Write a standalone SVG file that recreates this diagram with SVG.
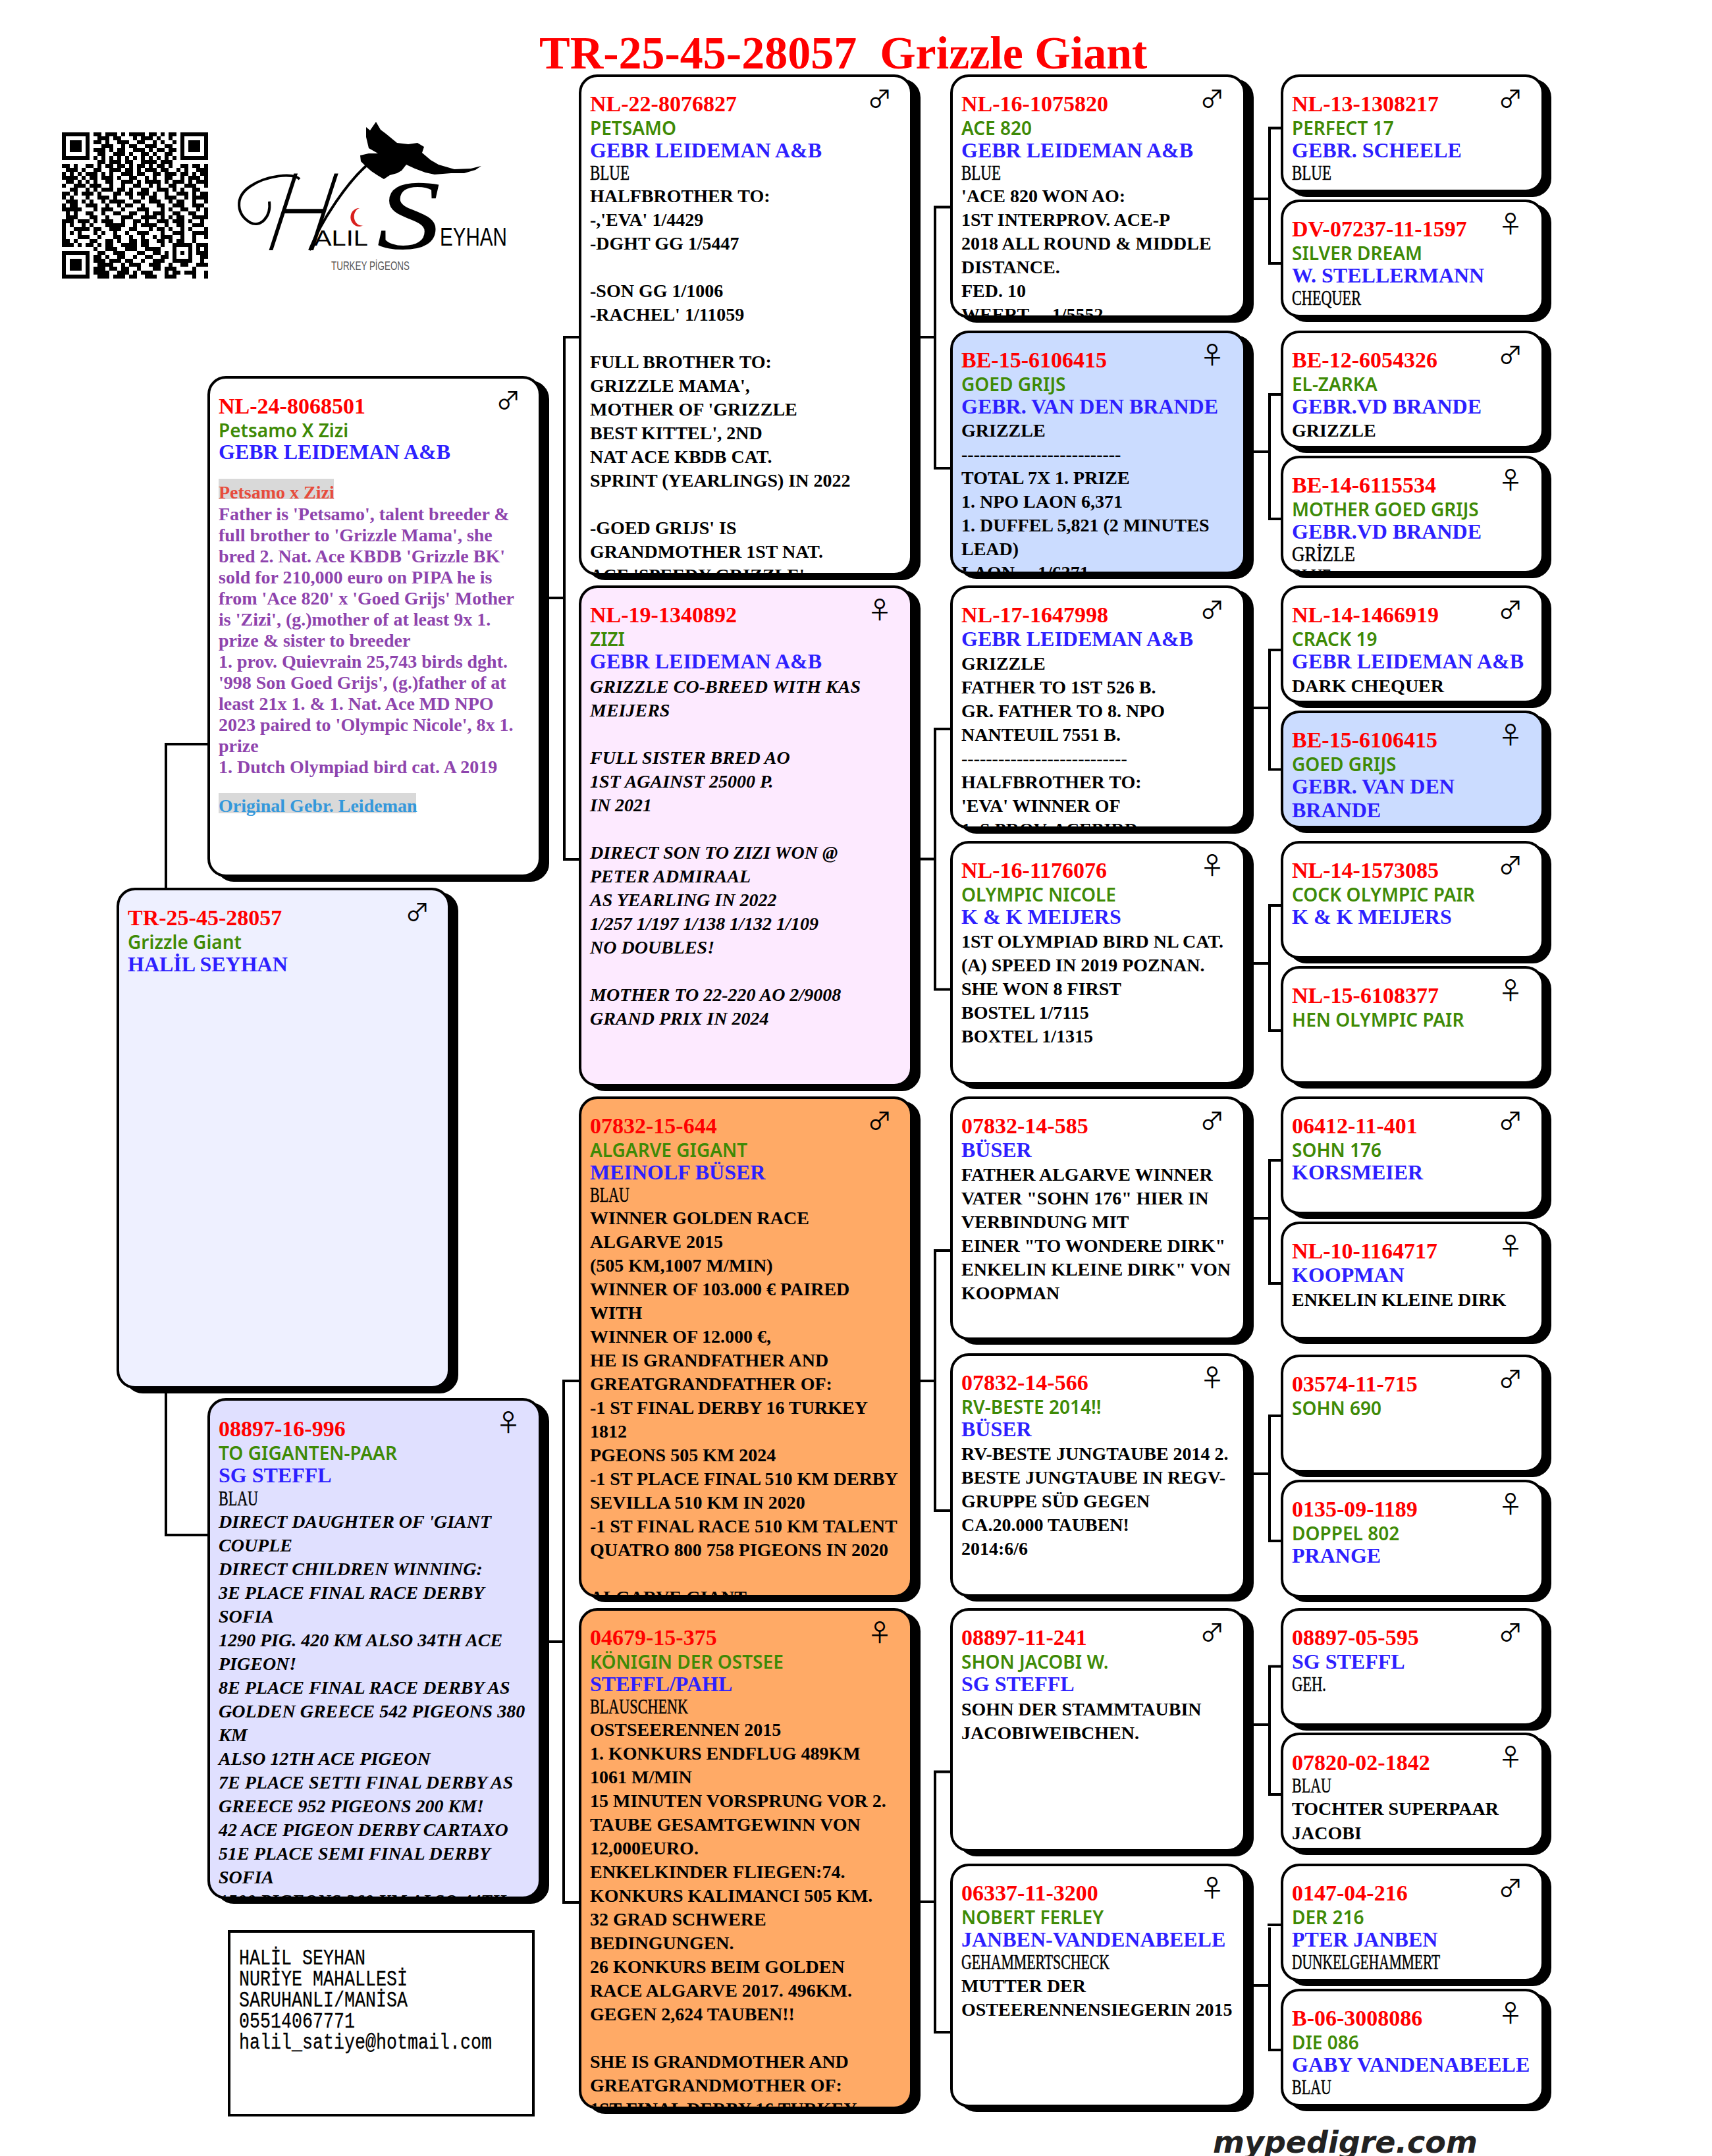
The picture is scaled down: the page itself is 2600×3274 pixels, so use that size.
<svg xmlns="http://www.w3.org/2000/svg" width="2600" height="3274" viewBox="0 0 2600 3274">
<style>
text{font-family:"Liberation Serif","Times New Roman",serif;font-weight:700;white-space:pre}
.i{font-size:34px;fill:#f00}
.g{font-family:"Noto Sans","Open Sans",sans-serif;font-size:28px;font-weight:600;fill:#3e8a06}
.u{font-size:32px;fill:#2e1fff}
.t{font-size:28px;fill:#000}
.e{font-size:28px;fill:#000;font-style:italic}
.m{font-size:31px;font-weight:400;fill:#000;stroke:#000;stroke-width:.5px}
.sx{font-family:"Noto Sans CJK SC","DejaVu Sans",sans-serif;font-size:37px;font-weight:400;fill:#000;text-anchor:middle}
.p{font-size:28px;fill:#8e44ad}
.sh{fill:#000;stroke:#000;stroke-width:4}
.bx{stroke:#000;stroke-width:4}
.w{fill:#fff}.lb{fill:#cbdcff}.pk{fill:#fdeaff}.or{fill:#ffaa66}.r0{fill:#eef0ff}.r1{fill:#e0e0ff}
.con{fill:none;stroke:#000;stroke-width:4}
.adr{font-family:"Liberation Mono",monospace;font-size:33px;font-weight:400;fill:#000;stroke:#000;stroke-width:.3px}
</style>
<defs>
<rect id="r5" x="2" y="2" width="396" height="175" rx="26"/>
<rect id="r4" x="2" y="2" width="445" height="366" rx="26"/>
<rect id="r3" x="2" y="2" width="503" height="757" rx="26"/>
<clipPath id="c5"><rect x="4" y="4" width="392" height="171" rx="24"/></clipPath>
<clipPath id="c4"><rect x="4" y="4" width="441" height="362" rx="24"/></clipPath>
<clipPath id="c3"><rect x="4" y="4" width="499" height="753" rx="24"/></clipPath>
</defs>
<rect width="2600" height="3274" fill="#fff"/>
<text id="title" x="819" y="104" style="font-size:70px;fill:#f00">TR-25-45-28057  Grizzle Giant</text>

<g id="qr"><path transform="translate(94,204) scale(6)" fill="none" stroke="#000" stroke-width="1" d="M0 0h7M8 0h2M11 0h3M15 0h1M17 0h4M22 0h2M25 0h1M27 0h2M30 0h7M0 1h1M6 1h1M9 1h3M13 1h2M18 1h1M20 1h3M24 1h1M27 1h1M30 1h1M36 1h1M0 2h1M2 2h3M6 2h1M8 2h2M11 2h1M14 2h3M19 2h2M23 2h1M25 2h1M28 2h1M30 2h1M32 2h3M36 2h1M0 3h1M2 3h3M6 3h1M10 3h3M15 3h1M17 3h2M21 3h3M26 3h2M30 3h1M32 3h3M36 3h1M0 4h1M2 4h3M6 4h1M8 4h3M12 4h1M14 4h2M18 4h3M22 4h1M24 4h2M27 4h2M30 4h1M32 4h3M36 4h1M0 5h1M6 5h1M9 5h2M13 5h3M17 5h1M20 5h2M23 5h1M26 5h2M30 5h1M36 5h1M0 6h7M8 6h1M10 6h1M12 6h1M14 6h1M16 6h1M18 6h1M20 6h1M22 6h1M24 6h1M26 6h1M28 6h1M30 6h7M9 7h2M12 7h3M16 7h2M20 7h4M25 7h3M0 8h2M3 8h1M6 8h2M9 8h1M11 8h2M14 8h2M17 8h1M19 8h2M22 8h1M24 8h2M27 8h1M30 8h2M33 8h2M36 8h1M1 9h3M5 9h1M8 9h2M12 9h3M16 9h2M19 9h1M21 9h3M25 9h2M29 9h1M31 9h1M34 9h3M0 10h1M2 10h1M4 10h1M6 10h3M10 10h1M12 10h1M15 10h3M19 10h2M23 10h2M26 10h3M30 10h2M33 10h1M35 10h2M0 11h4M5 11h1M7 11h2M10 11h3M14 11h1M17 11h2M21 11h1M23 11h1M26 11h2M30 11h1M32 11h3M36 11h1M1 12h2M4 12h1M6 12h1M8 12h1M11 12h2M15 12h3M19 12h1M21 12h4M26 12h1M28 12h3M32 12h1M34 12h3M0 13h1M3 13h3M7 13h3M12 13h1M15 13h1M18 13h2M22 13h1M24 13h1M27 13h2M31 13h3M36 13h1M2 14h2M6 14h1M8 14h1M10 14h3M14 14h2M17 14h1M20 14h2M24 14h3M28 14h1M30 14h1M33 14h2M0 15h2M3 15h1M5 15h3M9 15h1M13 15h2M16 15h2M19 15h3M23 15h1M26 15h1M29 15h3M33 15h1M35 15h2M0 16h1M2 16h1M6 16h1M9 16h3M13 16h1M17 16h1M20 16h1M22 16h2M26 16h3M31 16h1M33 16h4M1 17h3M5 17h1M7 17h1M10 17h1M12 17h4M18 17h2M22 17h3M27 17h1M29 17h2M33 17h1M36 17h1M0 18h1M2 18h2M6 18h3M11 18h1M14 18h1M16 18h2M20 18h1M24 18h2M28 18h3M33 18h3M0 19h5M8 19h1M10 19h3M15 19h1M19 19h3M25 19h1M27 19h1M30 19h2M34 19h1M36 19h1M1 20h1M3 20h1M6 20h2M10 20h1M13 20h2M17 20h2M21 20h1M23 20h3M28 20h2M32 20h2M36 20h1M1 21h3M7 21h2M11 21h1M15 21h3M20 21h4M25 21h1M27 21h1M29 21h2M33 21h4M0 22h3M4 22h2M6 22h1M8 22h1M10 22h3M15 22h1M18 22h2M21 22h1M24 22h3M28 22h3M32 22h1M35 22h1M0 23h1M2 23h1M5 23h1M7 23h1M11 23h5M18 23h1M20 23h4M26 23h1M29 23h2M33 23h3M0 24h1M3 24h4M8 24h2M12 24h3M17 24h2M22 24h1M24 24h2M27 24h1M30 24h1M32 24h1M36 24h1M0 25h1M2 25h1M4 25h1M8 25h1M10 25h1M13 25h1M16 25h1M19 25h3M25 25h1M28 25h3M33 25h4M0 26h1M4 26h2M6 26h1M9 26h1M13 26h2M17 26h1M20 26h1M23 26h1M25 26h3M30 26h1M33 26h1M36 26h1M0 27h2M3 27h1M7 27h2M11 27h2M14 27h1M17 27h2M20 27h2M24 27h2M27 27h1M29 27h2M33 27h1M0 28h3M4 28h1M6 28h2M9 28h1M11 28h2M15 28h4M20 28h2M25 28h1M28 28h5M34 28h3M8 29h1M11 29h3M16 29h3M21 29h4M28 29h1M32 29h1M34 29h1M36 29h1M0 30h7M9 30h2M13 30h3M19 30h2M23 30h2M26 30h1M28 30h1M30 30h1M32 30h1M34 30h3M0 31h1M6 31h1M8 31h2M11 31h1M14 31h2M18 31h1M21 31h2M25 31h2M28 31h1M32 31h1M35 31h2M0 32h1M2 32h3M6 32h1M8 32h3M12 32h3M16 32h2M20 32h1M23 32h3M28 32h5M35 32h1M0 33h1M2 33h3M6 33h1M9 33h4M15 33h1M17 33h3M22 33h3M27 33h1M30 33h2M34 33h3M0 34h1M2 34h3M6 34h1M8 34h3M12 34h2M15 34h2M19 34h1M23 34h2M26 34h3M33 34h1M0 35h1M6 35h1M8 35h4M14 35h3M18 35h1M20 35h3M26 35h1M28 35h2M31 35h3M36 35h1M0 36h7M9 36h3M13 36h3M17 36h2M21 36h3M26 36h3M33 36h1M36 36h1"/></g>

<g id="logo">
<path fill="#000" d="M571 185L578 197L586 203L603 217L620 219L634 217L644 223L641 232L654 243L666 250L690 257L715 256L731 252L722 258L705 263L685 263L660 265L646 262L630 256L617 250L610 259L603 263L592 266L583 272L573 266L564 260L556 253L548 245L547 236L560 233L574 233L560 225L556 208L556 193L562 198Z"/>
<path fill="none" stroke="#000" stroke-width="4" d="M556 252C530 275 490 330 470 380"/>
<path fill="none" stroke="#000" stroke-width="4" d="M409 306C412 330 395 346 380 338C360 326 355 300 380 283C405 266 445 262 455 272"/>
<path fill="#d9201e" d="M546 316a13 14 0 1 0 6 26a10 12 0 1 1 -6 -26z"/>
<text x="0" y="0" transform="translate(395,380) skewX(-18) scale(.8,1)" style="font-family:Inter,Lato,sans-serif;font-size:160px;font-weight:200">H</text>
<text x="0" y="0" transform="translate(572,378) scale(1.3,1)" style="font-size:150px;font-style:italic;font-weight:400">S</text>
<text x="477" y="373" textLength="82" lengthAdjust="spacingAndGlyphs" style="font-family:'Liberation Sans',sans-serif;font-size:34px;font-weight:400">ALIL</text>
<text x="668" y="373" textLength="102" lengthAdjust="spacingAndGlyphs" style="font-family:'Liberation Sans',sans-serif;font-size:38px;font-weight:400">EYHAN</text>
<text x="503" y="410" textLength="119" lengthAdjust="spacingAndGlyphs" style="font-family:'Liberation Sans',sans-serif;font-size:18px;font-weight:400;fill:#555">TURKEY PİGEONS</text>
</g>

<g id="connectors" class="con">
<path d="M315 1130H252V2331H315"/>
<path d="M880 512H857V1305H880M834 908H857"/>
<path d="M880 2097H856V2889H880M834 2493H856"/>
<path d="M1443 314.500H1420V711H1443M1398 512H1420"/>
<path d="M1443 1107H1420V1502.500H1443M1398 1304.500H1420"/>
<path d="M1443 1899H1420V2294H1443M1398 2097H1420"/>
<path d="M1443 2690.500H1420V3086H1443M1398 2888H1420"/>
<path d="M1945 194.500H1928V400H1945M1904 302H1928"/>
<path d="M1945 599H1928V788H1945M1904 686H1928"/>
<path d="M1945 987H1928V1168.500H1945M1904 1075H1928"/>
<path d="M1945 1375H1928V1565H1945M1904 1463H1928"/>
<path d="M1945 1762H1928V1949H1945M1904 1850H1928"/>
<path d="M1945 2150H1928V2340H1945M1904 2238H1928"/>
<path d="M1945 2530.500H1928V2725H1945M1904 2619H1928"/>
<path d="M1945 2923H1925M1928 2927V3113H1945M1904 3015H1928"/>
</g>

<g id="n-subject" transform="translate(177,1348)"><use href="#r3" class="sh" x="12" y="7"/><use href="#r3" class="bx r0"/>
<text class="i" x="17" y="57">TR-25-45-28057</text><text class="g" x="17" y="93">Grizzle Giant</text><text class="u" x="17" y="127">HALİL SEYHAN</text><text class="sx" x="457" y="51">♂</text></g>

<g id="n-sire" transform="translate(315,571)"><use href="#r3" class="sh" x="12" y="7"/><use href="#r3" class="bx w"/>
<text class="i" x="17" y="57">NL-24-8068501</text><text class="g" x="17" y="93">Petsamo X Zizi</text><text class="u" x="17" y="126">GEBR LEIDEMAN A&amp;B</text>
<rect x="17" y="156" width="175" height="31" fill="#d9d9d9"/><text x="17" y="186" style="font-size:28px;fill:#e74c3c">Petsamo x Zizi</text>
<text class="p" x="17" y="219">Father is 'Petsamo', talent breeder &amp;</text>
<text class="p" x="17" y="251">full brother to 'Grizzle Mama', she</text>
<text class="p" x="17" y="283">bred 2. Nat. Ace KBDB 'Grizzle BK'</text>
<text class="p" x="17" y="315">sold for 210,000 euro on PIPA he is</text>
<text class="p" x="17" y="347">from 'Ace 820' x 'Goed Grijs' Mother</text>
<text class="p" x="17" y="379">is 'Zizi', (g.)mother of at least 9x 1.</text>
<text class="p" x="17" y="411">prize &amp; sister to breeder</text>
<text class="p" x="17" y="443">1. prov. Quievrain 25,743 birds dght.</text>
<text class="p" x="17" y="475">'998 Son Goed Grijs', (g.)father of at</text>
<text class="p" x="17" y="507">least 21x 1. &amp; 1. Nat. Ace MD NPO</text>
<text class="p" x="17" y="539">2023 paired to 'Olympic Nicole', 8x 1.</text>
<text class="p" x="17" y="571">prize</text>
<text class="p" x="17" y="603">1. Dutch Olympiad bird cat. A 2019</text>
<rect x="17" y="633" width="300" height="31" fill="#d9d9d9"/><text x="17" y="662" style="font-size:28px;fill:#3498db">Original Gebr. Leideman</text>
<text class="sx" x="457" y="51">♂</text></g>

<g id="n-dam" transform="translate(315,2123)"><use href="#r3" class="sh" x="12" y="7"/><use href="#r3" class="bx r1"/>
<g clip-path="url(#c3)"><text class="i" x="17" y="58">08897-16-996</text><text class="g" x="17" y="94">TO GIGANTEN-PAAR</text><text class="u" x="17" y="128">SG STEFFL</text><text class="m" x="17" y="163" textLength="60" lengthAdjust="spacingAndGlyphs">BLAU</text>
<text class="e" x="17" y="197">DIRECT DAUGHTER OF 'GIANT</text>
<text class="e" x="17" y="233">COUPLE</text>
<text class="e" x="17" y="269">DIRECT CHILDREN WINNING:</text>
<text class="e" x="17" y="305">3E PLACE FINAL RACE DERBY</text>
<text class="e" x="17" y="341">SOFIA</text>
<text class="e" x="17" y="377">1290 PIG. 420 KM ALSO 34TH ACE</text>
<text class="e" x="17" y="413">PIGEON!</text>
<text class="e" x="17" y="449">8E PLACE FINAL RACE DERBY AS</text>
<text class="e" x="17" y="485">GOLDEN GREECE 542 PIGEONS 380</text>
<text class="e" x="17" y="521">KM</text>
<text class="e" x="17" y="557">ALSO 12TH ACE PIGEON</text>
<text class="e" x="17" y="593">7E PLACE SETTI FINAL DERBY AS</text>
<text class="e" x="17" y="629">GREECE 952 PIGEONS 200 KM!</text>
<text class="e" x="17" y="665">42 ACE PIGEON DERBY CARTAXO</text>
<text class="e" x="17" y="701">51E PLACE SEMI FINAL DERBY</text>
<text class="e" x="17" y="737">SOFIA</text>
<text class="e" x="17" y="773">1500 PIGEONS 360 KM ALSO 44TH</text></g>
<text class="sx" x="457" y="51">♀</text></g>

<g id="n-gen3-1" transform="translate(879,113)"><use href="#r3" class="sh" x="12" y="7"/><use href="#r3" class="bx w"/>
<g clip-path="url(#c3)"><text class="i" x="17" y="56">NL-22-8076827</text><text class="g" x="17" y="92">PETSAMO</text><text class="u" x="17" y="126">GEBR LEIDEMAN A&amp;B</text><text class="m" x="17" y="160" textLength="60" lengthAdjust="spacingAndGlyphs">BLUE</text>
<text class="t" x="17" y="194">HALFBROTHER TO:</text>
<text class="t" x="17" y="230">-,'EVA' 1/4429</text>
<text class="t" x="17" y="266">-DGHT GG 1/5447</text>
<text class="t" x="17" y="338">-SON GG 1/1006</text>
<text class="t" x="17" y="374">-RACHEL' 1/11059</text>
<text class="t" x="17" y="446">FULL BROTHER TO:</text>
<text class="t" x="17" y="482">GRIZZLE MAMA',</text>
<text class="t" x="17" y="518">MOTHER OF 'GRIZZLE</text>
<text class="t" x="17" y="554">BEST KITTEL', 2ND</text>
<text class="t" x="17" y="590">NAT ACE KBDB CAT.</text>
<text class="t" x="17" y="626">SPRINT (YEARLINGS) IN 2022</text>
<text class="t" x="17" y="698">-GOED GRIJS' IS</text>
<text class="t" x="17" y="734">GRANDMOTHER 1ST NAT.</text>
<text class="t" x="17" y="770">ACE 'SPEEDY GRIZZLE'</text></g>
<text class="sx" x="457" y="51">♂</text></g>

<g id="n-gen3-2" transform="translate(879,889)"><use href="#r3" class="sh" x="12" y="7"/><use href="#r3" class="bx pk"/>
<g clip-path="url(#c3)"><text class="i" x="17" y="56">NL-19-1340892</text><text class="g" x="17" y="92">ZIZI</text><text class="u" x="17" y="126">GEBR LEIDEMAN A&amp;B</text>
<text class="e" x="17" y="163">GRIZZLE CO-BREED WITH KAS</text>
<text class="e" x="17" y="199">MEIJERS</text>
<text class="e" x="17" y="271">FULL SISTER BRED AO</text>
<text class="e" x="17" y="307">1ST AGAINST 25000 P.</text>
<text class="e" x="17" y="343">IN 2021</text>
<text class="e" x="17" y="415">DIRECT SON TO ZIZI WON @</text>
<text class="e" x="17" y="451">PETER ADMIRAAL</text>
<text class="e" x="17" y="487">AS YEARLING IN 2022</text>
<text class="e" x="17" y="523">1/257 1/197 1/138 1/132 1/109</text>
<text class="e" x="17" y="559">NO DOUBLES!</text>
<text class="e" x="17" y="631">MOTHER TO 22-220 AO 2/9008</text>
<text class="e" x="17" y="667">GRAND PRIX IN 2024</text></g>
<text class="sx" x="457" y="51">♀</text></g>

<g id="n-gen3-3" transform="translate(879,1665)"><use href="#r3" class="sh" x="12" y="7"/><use href="#r3" class="bx or"/>
<g clip-path="url(#c3)"><text class="i" x="17" y="56">07832-15-644</text><text class="g" x="17" y="92">ALGARVE GIGANT</text><text class="u" x="17" y="126">MEINOLF BÜSER</text><text class="m" x="17" y="160" textLength="60" lengthAdjust="spacingAndGlyphs">BLAU</text>
<text class="t" x="17" y="194">WINNER GOLDEN RACE</text>
<text class="t" x="17" y="230">ALGARVE 2015</text>
<text class="t" x="17" y="266">(505 KM,1007 M/MIN)</text>
<text class="t" x="17" y="302">WINNER OF 103.000 € PAIRED</text>
<text class="t" x="17" y="338">WITH</text>
<text class="t" x="17" y="374">WINNER OF 12.000 €,</text>
<text class="t" x="17" y="410">HE IS GRANDFATHER AND</text>
<text class="t" x="17" y="446">GREATGRANDFATHER OF:</text>
<text class="t" x="17" y="482">-1 ST FINAL DERBY 16 TURKEY</text>
<text class="t" x="17" y="518">1812</text>
<text class="t" x="17" y="554">PGEONS 505 KM 2024</text>
<text class="t" x="17" y="590">-1 ST PLACE FINAL 510 KM DERBY</text>
<text class="t" x="17" y="626">SEVILLA 510 KM IN 2020</text>
<text class="t" x="17" y="662">-1 ST FINAL RACE 510 KM TALENT</text>
<text class="t" x="17" y="698">QUATRO 800 758 PIGEONS IN 2020</text>
<text class="t" x="17" y="770">ALGARVE GIANT</text></g>
<text class="sx" x="457" y="51">♂</text></g>

<g id="n-gen3-4" transform="translate(879,2442)"><use href="#r3" class="sh" x="12" y="7"/><use href="#r3" class="bx or"/>
<g clip-path="url(#c3)"><text class="i" x="17" y="56">04679-15-375</text><text class="g" x="17" y="92">KÖNIGIN DER OSTSEE</text><text class="u" x="17" y="126">STEFFL/PAHL</text><text class="m" x="17" y="160" textLength="149" lengthAdjust="spacingAndGlyphs">BLAUSCHENK</text>
<text class="t" x="17" y="194">OSTSEERENNEN 2015</text>
<text class="t" x="17" y="230">1. KONKURS ENDFLUG 489KM</text>
<text class="t" x="17" y="266">1061 M/MIN</text>
<text class="t" x="17" y="302">15 MINUTEN VORSPRUNG VOR 2.</text>
<text class="t" x="17" y="338">TAUBE GESAMTGEWINN VON</text>
<text class="t" x="17" y="374">12,000EURO.</text>
<text class="t" x="17" y="410">ENKELKINDER FLIEGEN:74.</text>
<text class="t" x="17" y="446">KONKURS KALIMANCI 505 KM.</text>
<text class="t" x="17" y="482">32 GRAD SCHWERE</text>
<text class="t" x="17" y="518">BEDINGUNGEN.</text>
<text class="t" x="17" y="554">26 KONKURS BEIM GOLDEN</text>
<text class="t" x="17" y="590">RACE ALGARVE 2017. 496KM.</text>
<text class="t" x="17" y="626">GEGEN 2,624 TAUBEN!!</text>
<text class="t" x="17" y="698">SHE IS GRANDMOTHER AND</text>
<text class="t" x="17" y="734">GREATGRANDMOTHER OF:</text>
<text class="t" x="17" y="770">1ST FINAL DERBY 16 TURKEY</text></g>
<text class="sx" x="457" y="51">♀</text></g>

<g id="n-gen4-1" transform="translate(1443,113)"><use href="#r4" class="sh" x="12" y="7"/><use href="#r4" class="bx w"/>
<g clip-path="url(#c4)"><text class="i" x="17" y="56">NL-16-1075820</text><text class="g" x="17" y="92">ACE 820</text><text class="u" x="17" y="126">GEBR LEIDEMAN A&amp;B</text><text class="m" x="17" y="160" textLength="60" lengthAdjust="spacingAndGlyphs">BLUE</text>
<text class="t" x="17" y="194">'ACE 820 WON AO:</text>
<text class="t" x="17" y="230">1ST INTERPROV. ACE-P</text>
<text class="t" x="17" y="266">2018 ALL ROUND &amp; MIDDLE</text>
<text class="t" x="17" y="302">DISTANCE.</text>
<text class="t" x="17" y="338">FED. 10</text>
<text class="t" x="17" y="374">WEERT     1/5552</text></g>
<text class="sx" x="398" y="51">♂</text></g>

<g id="n-gen4-2" transform="translate(1443,502)"><use href="#r4" class="sh" x="12" y="7"/><use href="#r4" class="bx lb"/>
<g clip-path="url(#c4)"><text class="i" x="17" y="56">BE-15-6106415</text><text class="g" x="17" y="92">GOED GRIJS</text><text class="u" x="17" y="126">GEBR. VAN DEN BRANDE</text>
<text class="t" x="17" y="161">GRIZZLE</text>
<text class="t" x="17" y="197">--------------------------</text>
<text class="t" x="17" y="233">TOTAL 7X 1. PRIZE</text>
<text class="t" x="17" y="269">1. NPO LAON 6,371</text>
<text class="t" x="17" y="305">1. DUFFEL 5,821 (2 MINUTES</text>
<text class="t" x="17" y="341">LEAD)</text>
<text class="t" x="17" y="377">LAON     1/6371</text></g>
<text class="sx" x="398" y="51">♀</text></g>

<g id="n-gen4-3" transform="translate(1443,889)"><use href="#r4" class="sh" x="12" y="7"/><use href="#r4" class="bx w"/>
<g clip-path="url(#c4)"><text class="i" x="17" y="56">NL-17-1647998</text><text class="u" x="17" y="92">GEBR LEIDEMAN A&amp;B</text>
<text class="t" x="17" y="128">GRIZZLE</text>
<text class="t" x="17" y="164">FATHER TO 1ST 526 B.</text>
<text class="t" x="17" y="200">GR. FATHER TO 8. NPO</text>
<text class="t" x="17" y="236">NANTEUIL 7551 B.</text>
<text class="t" x="17" y="272">---------------------------</text>
<text class="t" x="17" y="308">HALFBROTHER TO:</text>
<text class="t" x="17" y="344">'EVA' WINNER OF</text>
<text class="t" x="17" y="380">1. S PROV. ACEBIRD</text></g>
<text class="sx" x="398" y="51">♂</text></g>

<g id="n-gen4-4" transform="translate(1443,1277)"><use href="#r4" class="sh" x="12" y="7"/><use href="#r4" class="bx w"/>
<g clip-path="url(#c4)"><text class="i" x="17" y="56">NL-16-1176076</text><text class="g" x="17" y="92">OLYMPIC NICOLE</text><text class="u" x="17" y="126">K &amp; K MEIJERS</text>
<text class="t" x="17" y="162">1ST OLYMPIAD BIRD NL CAT.</text>
<text class="t" x="17" y="198">(A) SPEED IN 2019 POZNAN.</text>
<text class="t" x="17" y="234">SHE WON 8 FIRST</text>
<text class="t" x="17" y="270">BOSTEL 1/7115</text>
<text class="t" x="17" y="306">BOXTEL 1/1315</text></g>
<text class="sx" x="398" y="51">♀</text></g>

<g id="n-gen4-5" transform="translate(1443,1665)"><use href="#r4" class="sh" x="12" y="7"/><use href="#r4" class="bx w"/>
<g clip-path="url(#c4)"><text class="i" x="17" y="56">07832-14-585</text><text class="u" x="17" y="92">BÜSER</text>
<text class="t" x="17" y="128">FATHER ALGARVE WINNER</text>
<text class="t" x="17" y="164">VATER "SOHN 176" HIER IN</text>
<text class="t" x="17" y="200">VERBINDUNG MIT</text>
<text class="t" x="17" y="236">EINER "TO WONDERE DIRK"</text>
<text class="t" x="17" y="272">ENKELIN KLEINE DIRK" VON</text>
<text class="t" x="17" y="308">KOOPMAN</text></g>
<text class="sx" x="398" y="51">♂</text></g>

<g id="n-gen4-6" transform="translate(1443,2055)"><use href="#r4" class="sh" x="12" y="7"/><use href="#r4" class="bx w"/>
<g clip-path="url(#c4)"><text class="i" x="17" y="56">07832-14-566</text><text class="g" x="17" y="92">RV-BESTE 2014!!</text><text class="u" x="17" y="126">BÜSER</text>
<text class="t" x="17" y="162">RV-BESTE JUNGTAUBE 2014 2.</text>
<text class="t" x="17" y="198">BESTE JUNGTAUBE IN REGV-</text>
<text class="t" x="17" y="234">GRUPPE SÜD GEGEN</text>
<text class="t" x="17" y="270">CA.20.000 TAUBEN!</text>
<text class="t" x="17" y="306">2014:6/6</text></g>
<text class="sx" x="398" y="51">♀</text></g>

<g id="n-gen4-7" transform="translate(1443,2442)"><use href="#r4" class="sh" x="12" y="7"/><use href="#r4" class="bx w"/>
<g clip-path="url(#c4)"><text class="i" x="17" y="56">08897-11-241</text><text class="g" x="17" y="92">SHON JACOBI W.</text><text class="u" x="17" y="126">SG STEFFL</text>
<text class="t" x="17" y="163">SOHN DER STAMMTAUBIN</text>
<text class="t" x="17" y="199">JACOBIWEIBCHEN.</text></g>
<text class="sx" x="398" y="51">♂</text></g>

<g id="n-gen4-8" transform="translate(1443,2830)"><use href="#r4" class="sh" x="12" y="7"/><use href="#r4" class="bx w"/>
<g clip-path="url(#c4)"><text class="i" x="17" y="56">06337-11-3200</text><text class="g" x="17" y="92">NOBERT FERLEY</text><text class="u" x="17" y="126">JANBEN-VANDENABEELE</text><text class="m" x="17" y="160" textLength="225" lengthAdjust="spacingAndGlyphs">GEHAMMERTSCHECK</text>
<text class="t" x="17" y="195">MUTTER DER</text>
<text class="t" x="17" y="231">OSTEERENNENSIEGERIN 2015</text></g>
<text class="sx" x="398" y="51">♀</text></g>

<g id="n-gen5-1" transform="translate(1945,113)"><use href="#r5" class="sh" x="11" y="7"/><use href="#r5" class="bx w"/><g clip-path="url(#c5)"><text class="i" x="17" y="56">NL-13-1308217</text><text class="g" x="17" y="92">PERFECT 17</text><text class="u" x="17" y="126">GEBR. SCHEELE</text><text class="m" x="17" y="160" textLength="60" lengthAdjust="spacingAndGlyphs">BLUE</text></g><text class="sx" x="349" y="51">♂</text></g>
<g id="n-gen5-2" transform="translate(1945,303)"><use href="#r5" class="sh" x="11" y="7"/><use href="#r5" class="bx w"/><g clip-path="url(#c5)"><text class="i" x="17" y="56">DV-07237-11-1597</text><text class="g" x="17" y="92">SILVER DREAM</text><text class="u" x="17" y="126">W. STELLERMANN</text><text class="m" x="17" y="160" textLength="105" lengthAdjust="spacingAndGlyphs">CHEQUER</text></g><text class="sx" x="349" y="51">♀</text></g>
<g id="n-gen5-3" transform="translate(1945,502)"><use href="#r5" class="sh" x="11" y="7"/><use href="#r5" class="bx w"/><g clip-path="url(#c5)"><text class="i" x="17" y="56">BE-12-6054326</text><text class="g" x="17" y="92">EL-ZARKA</text><text class="u" x="17" y="126">GEBR.VD BRANDE</text><text class="t" x="17" y="161">GRIZZLE</text></g><text class="sx" x="349" y="51">♂</text></g>
<g id="n-gen5-4" transform="translate(1945,692)"><use href="#r5" class="sh" x="11" y="7"/><use href="#r5" class="bx w"/><g clip-path="url(#c5)"><text class="i" x="17" y="56">BE-14-6115534</text><text class="g" x="17" y="92">MOTHER GOED GRIJS</text><text class="u" x="17" y="126">GEBR.VD BRANDE</text><text class="m" x="17" y="160" textLength="96" lengthAdjust="spacingAndGlyphs">GRİZLE</text><text class="m" x="17" y="194" textLength="60" lengthAdjust="spacingAndGlyphs">BLUE</text></g><text class="sx" x="349" y="51">♀</text></g>
<g id="n-gen5-5" transform="translate(1945,889)"><use href="#r5" class="sh" x="11" y="7"/><use href="#r5" class="bx w"/><g clip-path="url(#c5)"><text class="i" x="17" y="56">NL-14-1466919</text><text class="g" x="17" y="92">CRACK 19</text><text class="u" x="17" y="126">GEBR LEIDEMAN A&amp;B</text><text class="t" x="17" y="162">DARK CHEQUER</text></g><text class="sx" x="349" y="51">♂</text></g>
<g id="n-gen5-6" transform="translate(1945,1079)"><use href="#r5" class="sh" x="11" y="7"/><use href="#r5" class="bx lb"/><g clip-path="url(#c5)"><text class="i" x="17" y="56">BE-15-6106415</text><text class="g" x="17" y="92">GOED GRIJS</text><text class="u" x="17" y="126">GEBR. VAN DEN</text><text class="u" x="17" y="162">BRANDE</text></g><text class="sx" x="349" y="51">♀</text></g>
<g id="n-gen5-7" transform="translate(1945,1277)"><use href="#r5" class="sh" x="11" y="7"/><use href="#r5" class="bx w"/><g clip-path="url(#c5)"><text class="i" x="17" y="56">NL-14-1573085</text><text class="g" x="17" y="92">COCK OLYMPIC PAIR</text><text class="u" x="17" y="126">K &amp; K MEIJERS</text></g><text class="sx" x="349" y="51">♂</text></g>
<g id="n-gen5-8" transform="translate(1945,1467)"><use href="#r5" class="sh" x="11" y="7"/><use href="#r5" class="bx w"/><g clip-path="url(#c5)"><text class="i" x="17" y="56">NL-15-6108377</text><text class="g" x="17" y="92">HEN OLYMPIC PAIR</text></g><text class="sx" x="349" y="51">♀</text></g>
<g id="n-gen5-9" transform="translate(1945,1665)"><use href="#r5" class="sh" x="11" y="7"/><use href="#r5" class="bx w"/><g clip-path="url(#c5)"><text class="i" x="17" y="56">06412-11-401</text><text class="g" x="17" y="92">SOHN 176</text><text class="u" x="17" y="126">KORSMEIER</text></g><text class="sx" x="349" y="51">♂</text></g>
<g id="n-gen5-10" transform="translate(1945,1855)"><use href="#r5" class="sh" x="11" y="7"/><use href="#r5" class="bx w"/><g clip-path="url(#c5)"><text class="i" x="17" y="56">NL-10-1164717</text><text class="u" x="17" y="92">KOOPMAN</text><text class="t" x="17" y="128">ENKELIN KLEINE DIRK</text></g><text class="sx" x="349" y="51">♀</text></g>
<g id="n-gen5-11" transform="translate(1945,2057)"><use href="#r5" class="sh" x="11" y="7"/><use href="#r5" class="bx w"/><g clip-path="url(#c5)"><text class="i" x="17" y="56">03574-11-715</text><text class="g" x="17" y="92">SOHN 690</text></g><text class="sx" x="349" y="51">♂</text></g>
<g id="n-gen5-12" transform="translate(1945,2247)"><use href="#r5" class="sh" x="11" y="7"/><use href="#r5" class="bx w"/><g clip-path="url(#c5)"><text class="i" x="17" y="56">0135-09-1189</text><text class="g" x="17" y="92">DOPPEL 802</text><text class="u" x="17" y="126">PRANGE</text></g><text class="sx" x="349" y="51">♀</text></g>
<g id="n-gen5-13" transform="translate(1945,2442)"><use href="#r5" class="sh" x="11" y="7"/><use href="#r5" class="bx w"/><g clip-path="url(#c5)"><text class="i" x="17" y="56">08897-05-595</text><text class="u" x="17" y="92">SG STEFFL</text><text class="m" x="17" y="126" textLength="52" lengthAdjust="spacingAndGlyphs">GEH.</text></g><text class="sx" x="349" y="51">♂</text></g>
<g id="n-gen5-14" transform="translate(1945,2631)"><use href="#r5" class="sh" x="11" y="7"/><use href="#r5" class="bx w"/><g clip-path="url(#c5)"><text class="i" x="17" y="57">07820-02-1842</text><text class="m" x="17" y="91" textLength="60" lengthAdjust="spacingAndGlyphs">BLAU</text><text class="t" x="17" y="125">TOCHTER SUPERPAAR</text><text class="t" x="17" y="162">JACOBI</text></g><text class="sx" x="349" y="51">♀</text></g>
<g id="n-gen5-15" transform="translate(1945,2830)"><use href="#r5" class="sh" x="11" y="7"/><use href="#r5" class="bx w"/><g clip-path="url(#c5)"><text class="i" x="17" y="56">0147-04-216</text><text class="g" x="17" y="92">DER 216</text><text class="u" x="17" y="126">PTER JANBEN</text><text class="m" x="17" y="160" textLength="225" lengthAdjust="spacingAndGlyphs">DUNKELGEHAMMERT</text></g><text class="sx" x="349" y="51">♂</text></g>
<g id="n-gen5-16" transform="translate(1945,3020)"><use href="#r5" class="sh" x="11" y="7"/><use href="#r5" class="bx w"/><g clip-path="url(#c5)"><text class="i" x="17" y="56">B-06-3008086</text><text class="g" x="17" y="92">DIE 086</text><text class="u" x="17" y="126">GABY VANDENABEELE</text><text class="m" x="17" y="160" textLength="60" lengthAdjust="spacingAndGlyphs">BLAU</text></g><text class="sx" x="349" y="51">♀</text></g>

<g id="contact"><rect x="348" y="2933" width="462" height="279" fill="#fff" stroke="#000" stroke-width="4"/>
<text class="adr" x="363" y="2983" textLength="192" lengthAdjust="spacingAndGlyphs">HALİL SEYHAN</text>
<text class="adr" x="363" y="3015" textLength="256" lengthAdjust="spacingAndGlyphs">NURİYE MAHALLESİ</text>
<text class="adr" x="363" y="3047" textLength="256" lengthAdjust="spacingAndGlyphs">SARUHANLI/MANİSA</text>
<text class="adr" x="363" y="3079" textLength="176" lengthAdjust="spacingAndGlyphs">05514067771</text>
<text class="adr" x="363" y="3111" textLength="384" lengthAdjust="spacingAndGlyphs">halil_satiye@hotmail.com</text></g>

<text id="brand" x="1842" y="3269" style="font-family:'DejaVu Sans',sans-serif;font-size:46px;font-style:italic;font-weight:700;fill:#222">mypedigre.com</text>
</svg>
